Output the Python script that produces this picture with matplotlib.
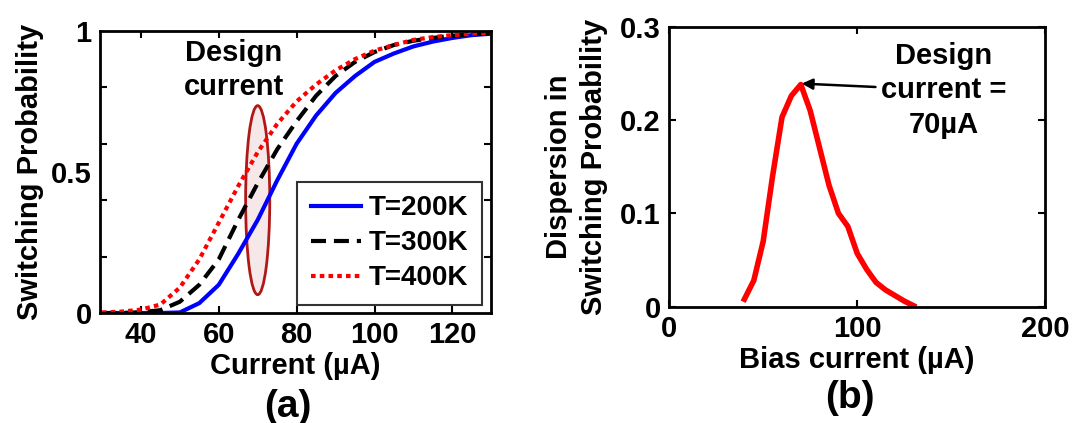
import numpy as np
import matplotlib
matplotlib.use("Agg")
from matplotlib import pyplot as plt
from matplotlib.patches import Ellipse
from matplotlib.ticker import MultipleLocator

plt.rcParams['font.family'] = ['Liberation Sans', 'DejaVu Sans']
plt.rcParams['font.weight'] = 'bold'
plt.rcParams['axes.labelweight'] = 'bold'

# (a) switching probability vs current
current = [30, 35, 40, 45, 50, 55, 60, 65, 70, 75, 80, 85, 90, 95, 100, 105, 110, 115, 120, 125, 130]
p_200 = [0, 0, 0, 0, 0.002, 0.035, 0.10, 0.21, 0.33, 0.47, 0.60, 0.70, 0.78, 0.84, 0.89, 0.92, 0.945, 0.962, 0.975, 0.985, 0.99]
p_300 = [0, 0, 0.003, 0.01, 0.04, 0.10, 0.19, 0.33, 0.46, 0.58, 0.68, 0.77, 0.84, 0.89, 0.925, 0.95, 0.965, 0.975, 0.983, 0.988, 0.992]
p_400 = [0.002, 0.005, 0.012, 0.03, 0.09, 0.19, 0.32, 0.45, 0.57, 0.67, 0.75, 0.81, 0.86, 0.90, 0.93, 0.95, 0.968, 0.978, 0.985, 0.99, 0.993]

# (b) dispersion vs bias current
bias = [40, 45, 50, 55, 60, 65, 70, 75, 80, 85, 90, 95, 100, 105, 110, 115, 120, 125, 130]
dispersion = [0.008, 0.028, 0.07, 0.14, 0.203, 0.226, 0.238, 0.21, 0.17, 0.13, 0.10, 0.086, 0.057, 0.04, 0.026, 0.018, 0.012, 0.006, 0.001]

fig = plt.figure(figsize=(10.81, 4.23), dpi=100)
ax1 = fig.add_axes([0.0925, 0.26, 0.362, 0.667])
ax2 = fig.add_axes([0.619, 0.275, 0.348, 0.662])

ax1.plot(current, p_200, color='blue', lw=3, label='T=200K')
ax1.plot(current, p_300, color='black', lw=3, ls=(0, (3.6, 1.9)), label='T=300K')
ax1.plot(current, p_400, color='red', lw=3, ls=(0, (1.1, 1.0)), label='T=400K')

ell = Ellipse((70, 0.40), 6.2, 0.67, facecolor=(0.8, 0.45, 0.45, 0.16), edgecolor='#b01818', lw=2)
ax1.add_patch(ell)
ax1.text(63.8, 0.862, 'Design\ncurrent', ha='center', va='center', fontsize=21, fontweight='bold',
         linespacing=1.3)

ax1.set_xlim(29.5, 130)
ax1.set_ylim(0, 1)
ax1.set_xticks([40, 60, 80, 100, 120])
ax1.set_yticks([0, 0.5, 1])
ax1.set_yticklabels(['0', '0.5', '1'])
ax1.yaxis.set_minor_locator(MultipleLocator(0.2))
ax1.tick_params(axis='y', which='major', length=0)
ax1.tick_params(axis='y', which='minor', direction='in', length=5, width=1.5, left=True, right=True)
ax1.tick_params(axis='x', direction='in', length=5, width=1.5, top=True, bottom=True)
ax1.tick_params(labelsize=21, pad=6)
ax1.set_xlabel('Current (µA)', fontsize=21, labelpad=2)
ax1.set_ylabel('Switching Probability', fontsize=21, labelpad=5)

leg = ax1.legend(loc='lower right', bbox_to_anchor=(0.977, 0.028), borderaxespad=0, fontsize=20,
                 frameon=True, fancybox=False, handlelength=1.8, handletextpad=0.3,
                 borderpad=0.5, labelspacing=0.32)
leg.get_frame().set_edgecolor('black')
leg.get_frame().set_linewidth(1.5)
for t in leg.get_texts():
    t.set_fontweight('bold')

ax2.plot(bias, dispersion, color='red', lw=4)
ax2.annotate('Design\ncurrent =\n70µA', xy=(70.5, 0.239), xytext=(146, 0.232),
             ha='center', va='center', fontsize=21, fontweight='bold', linespacing=1.3,
             arrowprops=dict(arrowstyle='-|>', color='black', lw=1.8, shrinkA=2, shrinkB=0,
                             mutation_scale=16))
ax2.set_xlim(0, 200)
ax2.set_ylim(0, 0.3)
ax2.set_xticks([0, 100, 200])
ax2.set_yticks([0, 0.1, 0.2, 0.3])
ax2.set_yticklabels(['0', '0.1', '0.2', '0.3'])
ax2.tick_params(direction='in', length=5, width=1.5, top=True, right=True, labelsize=21, pad=6)
ax2.set_xlabel('Bias current (µA)', fontsize=21, labelpad=2)
ax2.set_ylabel('Dispersion in\nSwitching Probability', fontsize=21, labelpad=9, linespacing=1.3)

for ax in (ax1, ax2):
    for s in ax.spines.values():
        s.set_linewidth(2)

fig.text(0.266, 0.038, '(a)', ha='center', va='center', fontsize=28, fontweight='bold')
fig.text(0.786, 0.06, '(b)', ha='center', va='center', fontsize=28, fontweight='bold')

fig.savefig('out.png', dpi=100)
